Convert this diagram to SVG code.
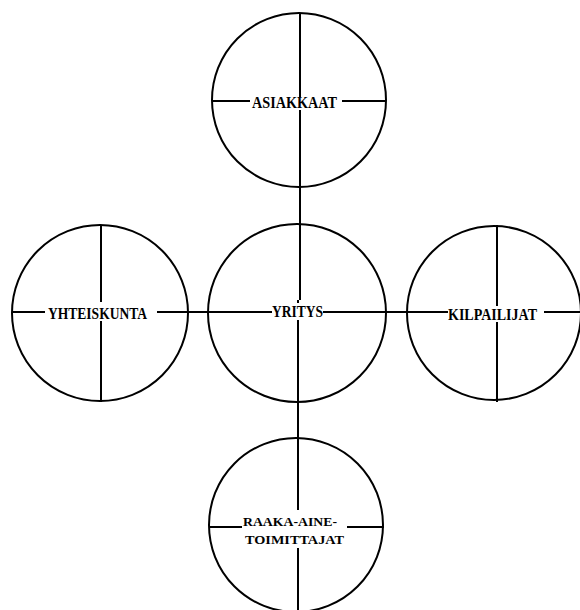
<svg xmlns="http://www.w3.org/2000/svg" width="580" height="610" viewBox="0 0 580 610">
<style>
.c{fill:none;stroke:#000;stroke-width:2}
.l{stroke:#000;stroke-width:2;fill:none}
.t{font-family:"Liberation Serif","Times New Roman",serif;font-size:16px;font-weight:bold;fill:#000}
.s{font-size:13px}
</style>
<rect width="580" height="610" fill="#fff"/>
<g id="connectors">
<path class="l" d="M300 14V97M300 110V300M298 300V303M298 320V510M298 548V612"/>
<path class="l" d="M212 101H250M342 101H386"/>
<path class="l" d="M12 312H45M157 312H272M323 312H448M544 312H580"/>
<path class="l" d="M101 225V302M101 321V402M497 225V306M497 322V402"/>
<path class="l" d="M209 527H242M347 527H384"/>
</g>
<g id="asiakkaat">
<circle class="c" cx="299" cy="100" r="87"/>
<text class="t" x="252" y="108" textLength="85" lengthAdjust="spacingAndGlyphs">ASIAKKAAT</text>
</g>
<g id="yhteiskunta">
<circle class="c" cx="100" cy="313" r="88"/>
<text class="t" x="48" y="319" textLength="99" lengthAdjust="spacingAndGlyphs">YHTEISKUNTA</text>
</g>
<g id="yritys">
<circle class="c" cx="297" cy="313" r="89"/>
<text class="t" x="272" y="317" textLength="51" lengthAdjust="spacingAndGlyphs">YRITYS</text>
</g>
<g id="kilpailijat">
<circle class="c" cx="494" cy="313" r="87"/>
<text class="t" x="448" y="320" textLength="89" lengthAdjust="spacingAndGlyphs">KILPAILIJAT</text>
</g>
<g id="raaka-aine">
<circle class="c" cx="296" cy="525" r="87"/>
<text class="t s" x="243" y="525.5" textLength="94" lengthAdjust="spacingAndGlyphs">RAAKA-AINE-</text>
<text class="t s" x="245" y="543.5" textLength="99" lengthAdjust="spacingAndGlyphs">TOIMITTAJAT</text>
</g>
</svg>
